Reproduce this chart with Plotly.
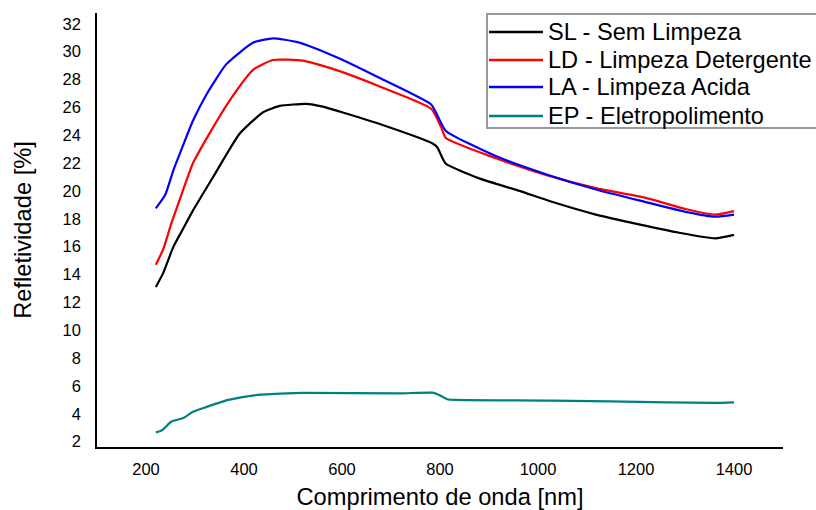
import plotly.graph_objects as go

# ---- data ----
sl_nm = [220, 235, 256, 276, 296, 337, 391, 439, 473, 527, 561, 595, 677, 785, 795, 803, 812, 880, 962, 1030, 1118, 1206, 1288, 1362, 1400]
sl_val = [13.1, 14.1, 16.0, 17.3, 18.6, 21.0, 24.1, 25.65, 26.1, 26.25, 26.05, 25.7, 24.8, 23.4, 23.1, 22.5, 21.95, 20.9, 20.0, 19.2, 18.3, 17.6, 17.0, 16.6, 16.85]

ld_nm = [220, 235, 252, 269, 296, 330, 371, 419, 459, 520, 554, 595, 677, 782, 802, 812, 914, 1016, 1118, 1220, 1301, 1362, 1400]
ld_val = [14.7, 15.8, 17.7, 19.4, 22.0, 24.15, 26.5, 28.7, 29.4, 29.35, 29.05, 28.6, 27.5, 25.9, 24.6, 23.8, 22.35, 21.15, 20.2, 19.5, 18.7, 18.3, 18.55]

la_nm = [220, 239, 256, 276, 296, 324, 364, 419, 459, 507, 541, 595, 677, 782, 795, 812, 914, 1016, 1118, 1220, 1301, 1362, 1400]
la_val = [18.75, 19.7, 21.5, 23.3, 25.05, 26.96, 29.1, 30.65, 30.95, 30.7, 30.3, 29.5, 28.1, 26.2, 25.4, 24.3, 22.5, 21.2, 20.1, 19.2, 18.5, 18.15, 18.3]

ep_nm = [220, 232, 252, 276, 296, 324, 368, 425, 487, 520, 717, 785, 795, 815, 830, 1029, 1265, 1360, 1400]
ep_val = [2.67, 2.8, 3.45, 3.7, 4.15, 4.5, 5.0, 5.35, 5.47, 5.5, 5.47, 5.52, 5.4, 5.05, 5.0, 4.95, 4.83, 4.78, 4.82]

series_names = ["SL - Sem Limpeza", "LD - Limpeza Detergente", "LA - Limpeza Acida", "EP - Eletropolimento"]
series_colors = ["#000000", "#FF0000", "#0000FF", "#008080"]

x_ticks = [200, 400, 600, 800, 1000, 1200, 1400]
y_ticks = list(range(2, 33, 2))

FONT = "Liberation Sans, Arial, sans-serif"

fig = go.Figure()
for nm, val, name, col in zip([sl_nm, ld_nm, la_nm, ep_nm], [sl_val, ld_val, la_val, ep_val], series_names, series_colors):
    fig.add_trace(go.Scatter(x=nm, y=val, mode="lines", name=name,
                             line=dict(color=col, width=2.2, shape="spline", smoothing=0.5),
                             showlegend=False))

W, H = 816, 510
L, R, T, B = 97, 33, 13, 63
pw, ph = W - L - R, H - T - B

def px(xp):
    return (xp - L) / pw

def py(yp):
    return (H - B - yp) / ph

# manual legend box
shapes = [dict(type="rect", xref="paper", yref="paper",
               x0=px(487), x1=px(840), y0=py(128), y1=py(14),
               line=dict(color="#999999", width=2), fillcolor="rgba(0,0,0,0)", layer="above")]
annotations = []
rows = [32, 60, 87, 116]
for name, col, ry in zip(series_names, series_colors, rows):
    shapes.append(dict(type="line", xref="paper", yref="paper",
                       x0=px(489), x1=px(543), y0=py(ry), y1=py(ry),
                       line=dict(color=col, width=2.5)))
    annotations.append(dict(xref="paper", yref="paper", x=px(546), y=py(ry),
                            xanchor="left", yanchor="middle", showarrow=False,
                            text=name, font=dict(family=FONT, size=23.6, color="#000000")))

fig.update_layout(
    width=W, height=H,
    margin=dict(l=L, r=R, t=T, b=B, autoexpand=False),
    paper_bgcolor="white", plot_bgcolor="white",
    font=dict(family=FONT, color="#000000"),
    shapes=shapes, annotations=annotations,
    xaxis=dict(range=[100, 1500], tickvals=x_ticks, ticktext=[str(v) for v in x_ticks],
               showgrid=False, zeroline=False, showline=True, linecolor="#000000", linewidth=1.5,
               ticks="", ticklabelstandoff=6, tickfont=dict(size=16.5, family=FONT), automargin=False,
               title=dict(text="Comprimento de onda [nm]", font=dict(size=23.7, family=FONT), standoff=12)),
    yaxis=dict(range=[1.62, 32.77], tickvals=y_ticks, ticktext=[str(v) for v in y_ticks],
               showgrid=False, zeroline=False, showline=True, linecolor="#000000", linewidth=1.5,
               ticks="", ticklabelstandoff=11, tickfont=dict(size=16.5, family=FONT), automargin=False,
               title=dict(text="Refletividade [%]", font=dict(size=23.7, family=FONT), standoff=24)),
)

fig.write_html("out.html", config={"displayModeBar": False},
               post_script="document.body.style.margin='0';document.body.style.overflow='hidden';")
